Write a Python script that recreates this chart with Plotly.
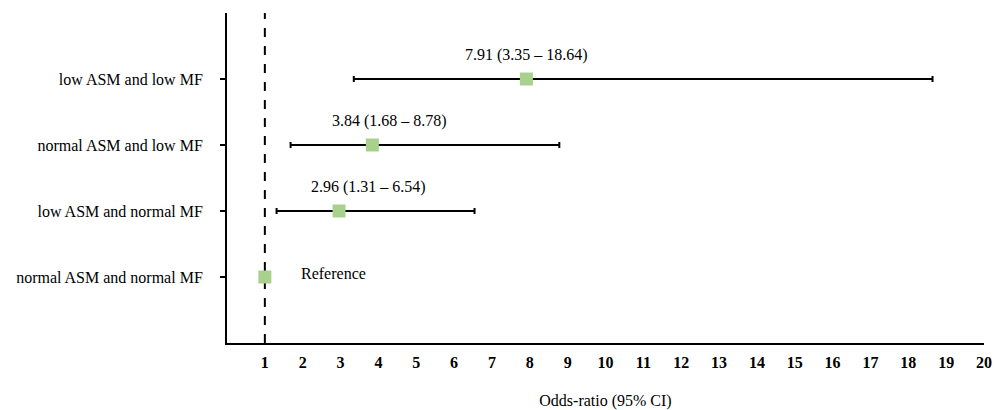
import plotly.graph_objects as go

categories = ["low ASM and low MF", "normal ASM and low MF", "low ASM and normal MF", "normal ASM and normal MF"]
positions = [4, 3, 2, 1]
odds_ratio = [7.91, 3.84, 2.96, 1.0]
ci_low = [3.35, 1.68, 1.31, 1.0]
ci_high = [18.64, 8.78, 6.54, 1.0]
or_labels = ["7.91 (3.35 – 18.64)", "3.84 (1.68 – 8.78)", "2.96 (1.31 – 6.54)", "Reference"]
label_xshift = [0, 17, 29, 0]
reference_or = 1
x_ticks = list(range(1, 21))

FONT = "Liberation Serif, Times New Roman, serif"

err_plus = [h - o for h, o in zip(ci_high, odds_ratio)]
err_minus = [o - l for o, l in zip(odds_ratio, ci_low)]

fig = go.Figure()

# reference dashed line at OR = 1
fig.add_shape(type="line", x0=reference_or, x1=reference_or, y0=0, y1=5,
              xref="x", yref="y", line=dict(color="black", width=2, dash="dash"), layer="below")

fig.add_trace(go.Scatter(
    x=odds_ratio[:3], y=positions[:3], mode="markers",
    marker=dict(symbol="square", size=13, color="#a9d18e"),
    error_x=dict(type="data", array=err_plus[:3], arrayminus=err_minus[:3],
                 color="black", thickness=2, width=3),
    showlegend=False, hoverinfo="skip",
))
fig.add_trace(go.Scatter(
    x=odds_ratio[3:], y=positions[3:], mode="markers",
    marker=dict(symbol="square", size=13, color="#a9d18e"),
    showlegend=False, hoverinfo="skip",
))

for i in range(3):
    fig.add_annotation(x=odds_ratio[i], y=positions[i], text=or_labels[i],
                       showarrow=False, xshift=label_xshift[i], yshift=24,
                       font=dict(family=FONT, size=16, color="black"))
fig.add_annotation(x=odds_ratio[3], y=positions[3], text=or_labels[3],
                   showarrow=False, xanchor="left", xshift=34, yshift=4,
                   font=dict(family=FONT, size=16, color="black"))

# page has an 8px body margin, so the figure is 992x402
fig.update_layout(
    width=992, height=402,
    margin=dict(l=219, r=16, t=5, b=67),
    plot_bgcolor="white", paper_bgcolor="white",
    font=dict(family=FONT, size=16, color="black"),
    xaxis=dict(range=[0, 20], tickvals=x_ticks, ticktext=[f"<b>{t}</b>" for t in x_ticks],
               showline=True, linecolor="black", linewidth=2, ticks="", showgrid=False,
               zeroline=False, tickfont=dict(family=FONT, size=16), automargin=False,
               ticklabelstandoff=4,
               title=dict(text="Odds-ratio (95% CI)", font=dict(family=FONT, size=16), standoff=26)),
    yaxis=dict(range=[0, 5], tickvals=positions, ticktext=categories,
               showline=True, linecolor="black", linewidth=2, ticks="outside", ticklen=5,
               tickwidth=1.5, tickcolor="black", showgrid=False, zeroline=False, automargin=False,
               ticklabelstandoff=14, tickfont=dict(family=FONT, size=16)),
)

fig.write_html("out.html")
